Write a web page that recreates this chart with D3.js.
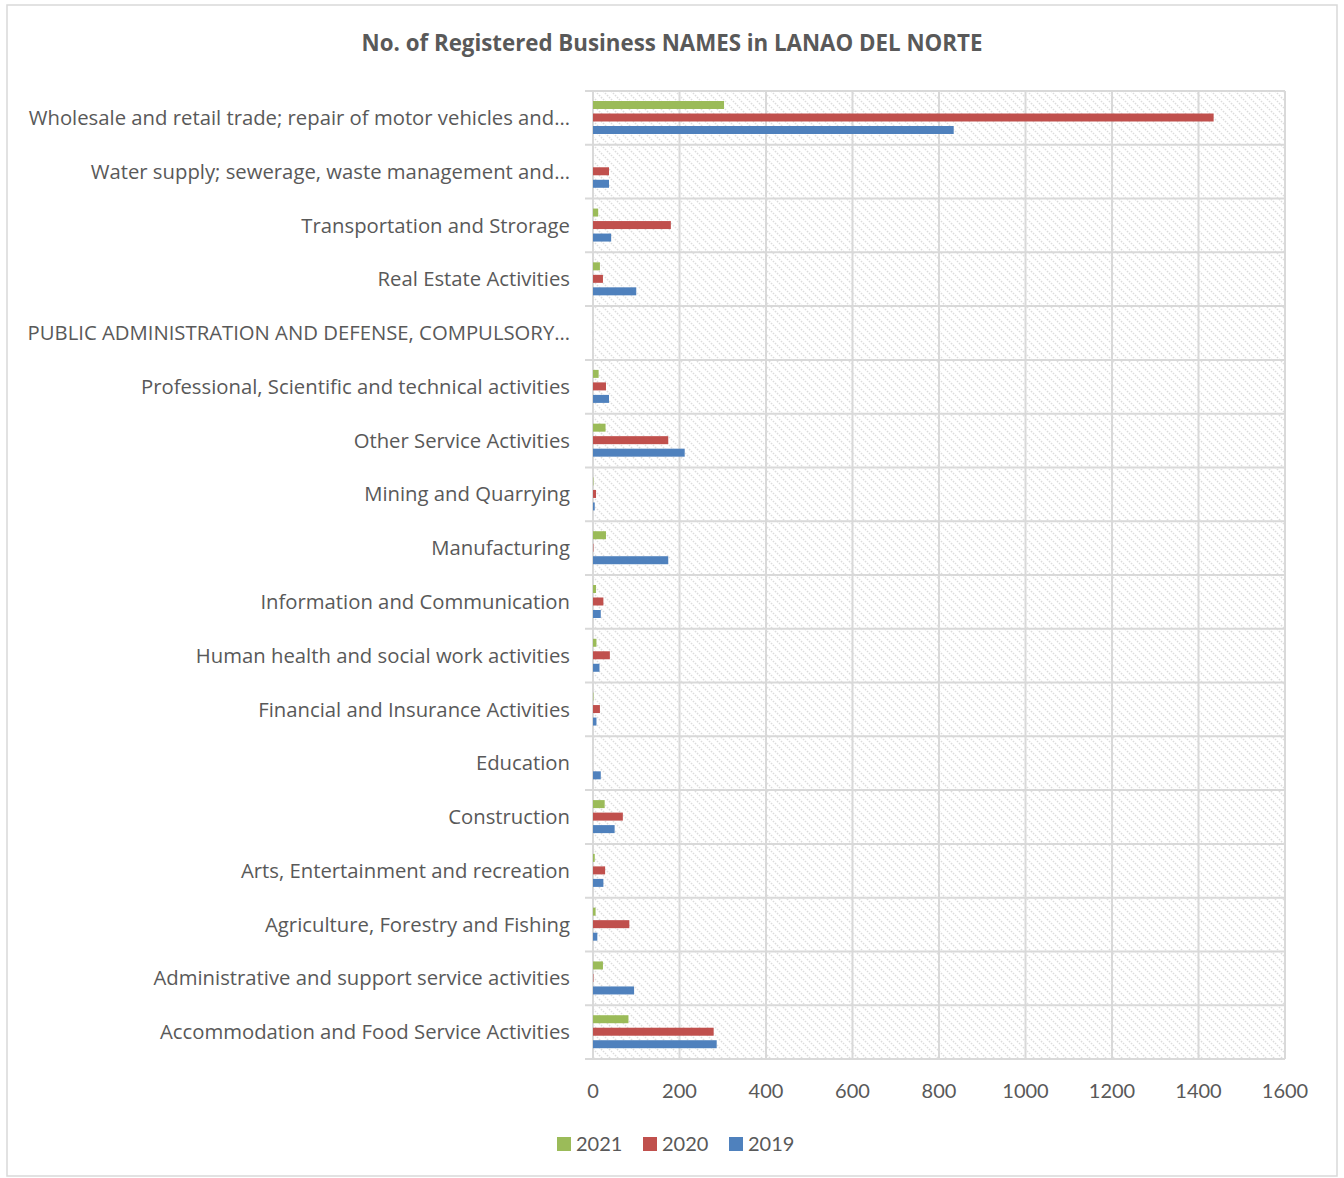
<!DOCTYPE html>
<html>
<head>
<meta charset="utf-8">
<script src="https://cdn.jsdelivr.net/npm/d3@7"></script>
<style>
  body { margin: 0; background: #fff; }
  text { font-family: Lato, "Open Sans", sans-serif; }
  .lbl { font-family: "Open Sans", Lato, sans-serif; }
</style>
</head>
<body>
<script>
// categories, top to bottom as shown
let categories = [
  'Wholesale and retail trade; repair of motor vehicles and\u2026',
  'Water supply; sewerage, waste management and\u2026',
  'Transportation and Strorage',
  'Real Estate Activities',
  'PUBLIC ADMINISTRATION AND DEFENSE, COMPULSORY\u2026',
  'Professional, Scientific and technical activities',
  'Other Service Activities',
  'Mining and Quarrying',
  'Manufacturing',
  'Information and Communication',
  'Human health and social work activities',
  'Financial and Insurance Activities',
  'Education',
  'Construction',
  'Arts, Entertainment and recreation',
  'Agriculture, Forestry and Fishing',
  'Administrative and support service activities',
  'Accommodation and Food Service Activities'
];

let series = ['2021', '2020', '2019'];

let values2021 = [303, 0, 12, 16, 0, 13, 29, 1, 30, 7, 8, 1, 0, 27, 4, 6, 23, 82];
let values2020 = [1435, 37, 180, 23, 0, 30, 174, 7, 1, 24, 39, 16, 0, 69, 28, 84, 1, 279];
let values2019 = [834, 37, 42, 100, 0, 37, 212, 4, 174, 18, 15, 8, 18, 50, 24, 10, 95, 286];

let xTicks = [0, 200, 400, 600, 800, 1000, 1200, 1400, 1600];

let colors = {'2021': '#9bbb59', '2020': '#c0504d', '2019': '#4f81bd'};

let data = categories.map((c, i) => ({
  name: c,
  '2021': values2021[i],
  '2020': values2020[i],
  '2019': values2019[i]
}));

let width = 1344;
let height = 1178;
let plot = {left: 593, right: 1285, top: 91, bottom: 1059};

let svg = d3.select('body').append('svg')
  .attr('width', width)
  .attr('height', height);

// hatch pattern for plot background
let defs = svg.append('defs');
let pat = defs.append('pattern')
  .attr('id', 'hatch')
  .attr('patternUnits', 'userSpaceOnUse')
  .attr('width', 8)
  .attr('height', 8);
pat.append('path')
  .attr('d', 'M-1,-1 L9,9 M-1,7 L1,9 M7,-1 L9,1')
  .attr('stroke', '#dcdcdc')
  .attr('stroke-width', 1.5)
  .attr('stroke-dasharray', '1.6,1.2');

// chart border
svg.append('rect')
  .attr('x', 7).attr('y', 5)
  .attr('width', 1330).attr('height', 1171)
  .attr('fill', '#fff')
  .attr('stroke', '#d9d9d9')
  .attr('stroke-width', 1.5);

svg.append('text')
  .attr('class', 'lbl')
  .attr('x', 672).attr('y', 51)
  .attr('text-anchor', 'middle')
  .attr('font-size', 22.3)
  .attr('font-weight', 'bold')
  .attr('fill', '#595959')
  .text('No. of Registered Business NAMES in LANAO DEL NORTE');

let x = d3.scaleLinear()
  .domain([0, 1600])
  .range([plot.left, plot.right]);

let y0 = d3.scaleBand()
  .domain(categories)
  .range([plot.top, plot.bottom])
  .padding(0);

let y1 = d3.scaleBand()
  .domain(series)
  .range([10, 43])
  .paddingInner(0.36)
  .paddingOuter(0);

svg.append('rect')
  .attr('x', plot.left).attr('y', plot.top)
  .attr('width', plot.right - plot.left)
  .attr('height', plot.bottom - plot.top)
  .attr('fill', 'url(#hatch)');

// vertical gridlines
svg.append('g')
  .selectAll('line')
  .data(xTicks)
  .enter().append('line')
  .attr('x1', d => x(d)).attr('x2', d => x(d))
  .attr('y1', plot.top).attr('y2', plot.bottom)
  .attr('stroke', '#d9d9d9')
  .attr('stroke-width', 2);

// horizontal category lines (with tick marks)
let hLines = categories.map(c => y0(c)).concat([plot.bottom]);
svg.append('g')
  .selectAll('line')
  .data(hLines)
  .enter().append('line')
  .attr('x1', plot.left - 8).attr('x2', plot.right)
  .attr('y1', d => d).attr('y2', d => d)
  .attr('stroke', '#d9d9d9')
  .attr('stroke-width', 2);

// bars
let groups = svg.append('g')
  .selectAll('g')
  .data(data)
  .enter().append('g')
  .attr('transform', d => 'translate(0,' + y0(d.name) + ')');

groups.selectAll('rect')
  .data(d => series.map(s => ({key: s, value: d[s]})))
  .enter().append('rect')
  .attr('x', x(0))
  .attr('y', d => y1(d.key))
  .attr('width', d => x(d.value) - x(0))
  .attr('height', y1.bandwidth())
  .attr('fill', d => colors[d.key]);

// category labels
svg.append('g')
  .selectAll('text')
  .data(categories)
  .enter().append('text')
  .attr('class', 'lbl')
  .attr('x', 570)
  .attr('y', d => y0(d) + y0.bandwidth() / 2)
  .attr('dy', '0.35em')
  .attr('text-anchor', 'end')
  .attr('font-size', 20.3)
  .attr('fill', '#595959')
  .text(d => d);

// x tick labels
svg.append('g')
  .selectAll('text')
  .data(xTicks)
  .enter().append('text')
  .attr('x', d => x(d))
  .attr('y', 1098)
  .attr('text-anchor', 'middle')
  .attr('font-size', 20)
  .attr('fill', '#595959')
  .text(d => d);

// legend
let legend = svg.append('g')
  .selectAll('g')
  .data(series)
  .enter().append('g')
  .attr('transform', (d, i) => 'translate(' + (557 + i * 86) + ',1137)');

legend.append('rect')
  .attr('width', 14).attr('height', 14)
  .attr('fill', d => colors[d]);

legend.append('text')
  .attr('x', 19).attr('y', 7)
  .attr('dy', '0.35em')
  .attr('font-size', 20)
  .attr('fill', '#595959')
  .text(d => d);
</script>
</body>
</html>
